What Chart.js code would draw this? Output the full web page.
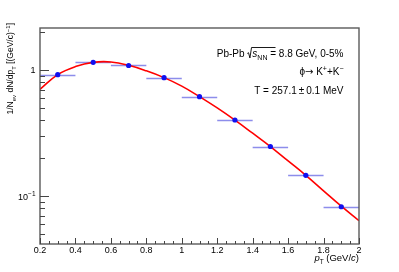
<!DOCTYPE html>
<html>
<head>
<meta charset="utf-8">
<script src="https://cdn.jsdelivr.net/npm/chart.js@4.4.0/dist/chart.umd.min.js"></script>
<style>
  html, body { margin: 0; padding: 0; background: #fff; }
  #wrap { width: 399px; height: 272px; }
</style>
</head>
<body>
<div id="wrap"><canvas id="spectrum" width="399" height="272"></canvas></div>
<script>
// measured phi spectrum (bin centres, half widths, yields)
const ptCenters = [0.3, 0.5, 0.7, 0.9, 1.1, 1.3, 1.5, 1.7, 1.9];
const ptHalfWidth = [0.1, 0.1, 0.1, 0.1, 0.1, 0.1, 0.1, 0.1, 0.1];
const yields = [0.918, 1.151, 1.086, 0.869, 0.614, 0.401, 0.247, 0.146, 0.0822];

// fitted curve
const fitPt = [0.2, 0.3, 0.4, 0.5, 0.6, 0.7, 0.8, 0.9, 1.0, 1.1, 1.2, 1.3, 1.4, 1.5, 1.6, 1.7, 1.8, 1.9, 2.0];
const fitYield = [0.703, 0.92, 1.065, 1.15, 1.158, 1.09, 0.985, 0.87, 0.745, 0.615, 0.5, 0.4, 0.315, 0.247, 0.19, 0.146, 0.11, 0.083, 0.0637];

// axes
const xMin = 0.2, xMax = 2.0;
const yMin = 0.0416, yMax = 2.154;
const xMajor = [0.2, 0.4, 0.6, 0.8, 1.0, 1.2, 1.4, 1.6, 1.8, 2.0];
const xLabels = ['0.2', '0.4', '0.6', '0.8', '1', '1.2', '1.4', '1.6', '1.8', '2'];
const xMinor = [0.25, 0.3, 0.35, 0.45, 0.5, 0.55, 0.65, 0.7, 0.75, 0.85, 0.9, 0.95, 1.05, 1.1, 1.15,
                1.25, 1.3, 1.35, 1.45, 1.5, 1.55, 1.65, 1.7, 1.75, 1.85, 1.9, 1.95];
const yMajor = [0.1, 1];
const yMinor = [0.05, 0.06, 0.07, 0.08, 0.09, 0.2, 0.3, 0.4, 0.5, 0.6, 0.7, 0.8, 0.9, 2];

const FONT = '"Liberation Sans", Arial, Helvetica, sans-serif';

function fontOf(seg, base) {
    const size = seg.size || base;
    return (seg.italic ? 'italic ' : '') + size + 'px ' + (seg.family || FONT);
}

function richWidth(ctx, segs, base) {
    let w = 0;
    segs.forEach(s => { ctx.font = fontOf(s, base); w += ctx.measureText(s.t).width + (s.pad || 0); });
    return w;
}

function drawRich(ctx, segs, x, y, base, align) {
    let cx = align === 'right' ? x - richWidth(ctx, segs, base) : x;
    ctx.textBaseline = 'alphabetic';
    ctx.textAlign = 'left';
    segs.forEach(s => {
        ctx.font = fontOf(s, base);
        const w = ctx.measureText(s.t).width;
        if (s.radical) {
            ctx.save();
            ctx.strokeStyle = '#000';
            ctx.lineWidth = 0.9;
            ctx.beginPath();
            ctx.moveTo(cx, y - 3.5);
            ctx.lineTo(cx + 1.2, y - 4.3);
            ctx.lineTo(cx + 2.6, y + 1);
            ctx.lineTo(cx + 4.2, y - 9.5);
            ctx.lineTo(cx + 4.2 + s.over, y - 9.5);
            ctx.stroke();
            ctx.restore();
        } else {
            ctx.fillText(s.t, cx, y + (s.dy || 0));
        }
        cx += w + (s.pad || 0);
    });
}

const rootLook = {
    id: 'rootLook',
    beforeDatasetsDraw(chart) {
        const ctx = chart.ctx;
        const xs = chart.scales.x, ys = chart.scales.y;
        ctx.save();
        ctx.strokeStyle = 'rgba(80, 80, 225, 0.65)';
        ctx.lineWidth = 1.6;
        ptCenters.forEach((c, i) => {
            const py = Math.round(ys.getPixelForValue(yields[i])) + 0.5;
            ctx.beginPath();
            ctx.moveTo(xs.getPixelForValue(c - ptHalfWidth[i]), py);
            ctx.lineTo(xs.getPixelForValue(c + ptHalfWidth[i]), py);
            ctx.stroke();
        });
        ctx.restore();
    },
    afterDraw(chart) {
        const ctx = chart.ctx;
        const a = chart.chartArea;
        const xs = chart.scales.x, ys = chart.scales.y;
        ctx.save();

        // frame
        ctx.strokeStyle = '#5a5a5a';
        ctx.lineWidth = 1.4;
        ctx.strokeRect(a.left, a.top, a.right - a.left, a.bottom - a.top);

        // ticks, drawn inward as in ROOT
        ctx.strokeStyle = '#444';
        ctx.lineWidth = 1;
        ctx.beginPath();
        xMajor.forEach(v => { const px = Math.round(xs.getPixelForValue(v)) + 0.5; ctx.moveTo(px, a.bottom); ctx.lineTo(px, a.bottom - 6); });
        xMinor.forEach(v => { const px = Math.round(xs.getPixelForValue(v)) + 0.5; ctx.moveTo(px, a.bottom); ctx.lineTo(px, a.bottom - 3); });
        yMajor.forEach(v => { const py = Math.round(ys.getPixelForValue(v)) + 0.5; ctx.moveTo(a.left, py); ctx.lineTo(a.left + 9, py); });
        yMinor.forEach(v => { const py = Math.round(ys.getPixelForValue(v)) + 0.5; ctx.moveTo(a.left, py); ctx.lineTo(a.left + 5, py); });
        ctx.stroke();

        // tick labels
        ctx.fillStyle = '#000';
        ctx.font = '9px ' + FONT;
        ctx.textAlign = 'center';
        ctx.textBaseline = 'middle';
        xMajor.forEach((v, i) => ctx.fillText(xLabels[i], xs.getPixelForValue(v), a.bottom + 7));
        ctx.textAlign = 'right';
        ctx.fillText('1', 35.5, ys.getPixelForValue(1) + 0.5);
        drawRich(ctx, [{ t: '10' }, { t: '\u22121', size: 6.5, dy: -4 }], 35.5, ys.getPixelForValue(0.1) + 3.5, 9, 'right');

        // axis titles
        drawRich(ctx, [{ t: 'p', italic: true }, { t: 'T', size: 6.5, dy: 3 }, { t: ' (GeV/' }, { t: 'c', italic: true }, { t: ')' }],
                 a.right, 261, 9.5, 'right');
        ctx.save();
        ctx.translate(13, 23);
        ctx.rotate(-Math.PI / 2);
        drawRich(ctx, [{ t: '1/N' }, { t: 'ev', size: 6, dy: 2.5 }, { t: ' dN/dp' }, { t: 'T', size: 6, dy: 2.5 },
                       { t: ' [(GeV/c)' }, { t: '\u22121', size: 6, dy: -3.5 }, { t: ']' }], 0, 0, 8.5, 'right');
        ctx.restore();

        // legend text
        drawRich(ctx, [{ t: 'Pb-Pb ' }, { t: '', radical: true, over: 24, pad: 5 }, { t: 's', italic: true },
                       { t: 'NN', size: 7, dy: 2.5 }, { t: ' = 8.8 GeV, 0-5%' }], 343.5, 57, 10, 'right');
        drawRich(ctx, [{ t: '\u03d5' }, { t: '\u2192', family: '"DejaVu Sans", sans-serif', size: 10 }, { t: ' K' },
                       { t: '+', size: 7, dy: -4 }, { t: '+K' }, { t: '\u2212', size: 7, dy: -4 }],
                 343.5, 75, 10, 'right');
        drawRich(ctx, [{ t: 'T = 257.1\u2009\u00b1\u20090.1 MeV' }], 343.5, 94, 10, 'right');
        ctx.restore();
    }
};

new Chart(document.getElementById('spectrum').getContext('2d'), {
    type: 'scatter',
    data: {
        datasets: [
            {
                label: 'data',
                data: ptCenters.map((c, i) => ({ x: c, y: yields[i] })),
                backgroundColor: '#1010f0',
                borderColor: '#1010f0',
                pointRadius: 2.6,
                borderWidth: 0,
                order: 0
            },
            {
                type: 'line',
                label: 'fit',
                data: fitPt.map((p, i) => ({ x: p, y: fitYield[i] })),
                borderColor: '#ff0000',
                borderWidth: 1.6,
                pointRadius: 0,
                fill: false,
                tension: 0.4,
                order: 1
            }
        ]
    },
    options: {
        responsive: false,
        animation: false,
        devicePixelRatio: 1,
        layout: { padding: { left: 40, right: 40, top: 28, bottom: 28 } },
        plugins: { legend: { display: false }, tooltip: { enabled: false } },
        scales: {
            x: { type: 'linear', min: xMin, max: xMax, display: false },
            y: { type: 'logarithmic', min: yMin, max: yMax, display: false }
        }
    },
    plugins: [rootLook]
});
</script>
</body>
</html>
